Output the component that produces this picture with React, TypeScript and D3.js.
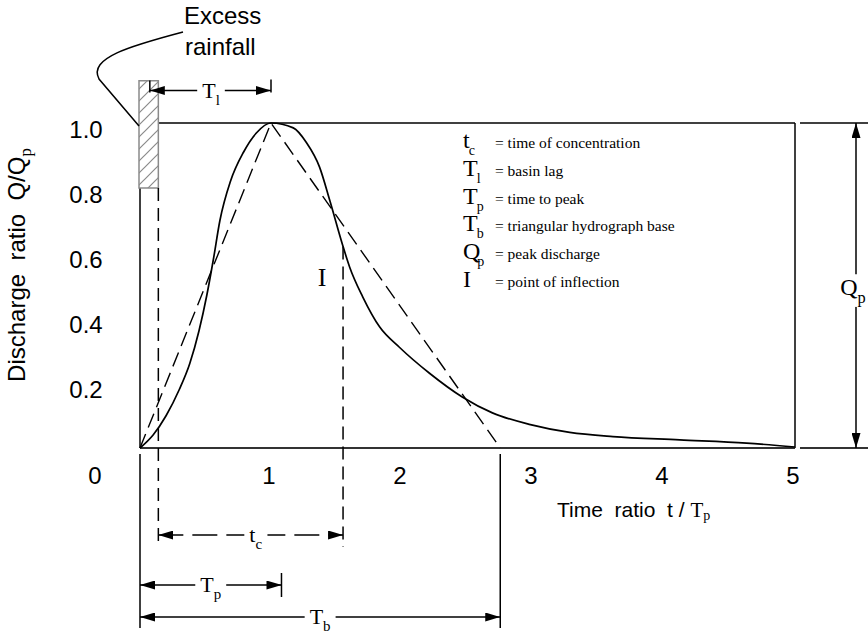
import React, { useEffect, useRef } from 'react';
import * as d3 from 'd3';

// Dimensionless unit hydrograph (t/Tp, Q/Qp)
const timeRatio = [0, 0.1, 0.2, 0.3, 0.38, 0.45, 0.51, 0.56, 0.61, 0.69, 0.79, 0.89, 1.0, 1.17, 1.27, 1.37, 1.45, 1.55, 1.6, 1.7, 1.83, 1.98, 2.21, 2.46, 2.69, 2.98, 3.28, 3.61, 4.12, 4.63, 5.0];
const dischargeRatio = [0, 0.04, 0.1, 0.18, 0.26, 0.36, 0.47, 0.58, 0.7, 0.82, 0.91, 0.97, 1.0, 0.985, 0.94, 0.865, 0.76, 0.62, 0.557, 0.465, 0.372, 0.31, 0.23, 0.157, 0.108, 0.072, 0.048, 0.035, 0.025, 0.015, 0.003];

// triangular approximation
const triangleTime = [0, 1.0, 2.75];
const triangleDischarge = [0, 1, 0];

// key times (t/Tp)
const rainEnd = 0.14;
const rainCentroid = 0.075;
const rainTop = 1.13;
const rainBottom = 0.8;
const peakTime = 1.0;
const tpMark = 1.08;
const tcEnd = 1.55;
const baseTime = 2.75;
const inflectionQ = 0.62;

const xTicks = [0, 1, 2, 3, 4, 5];
const yTicks = [0.2, 0.4, 0.6, 0.8, 1.0];
const yTickLabels = ['0.2', '0.4', '0.6', '0.8', '1.0'];

const legendSymbols = ['t', 'T', 'T', 'T', 'Q', 'I'];
const legendSubs = ['c', 'l', 'p', 'b', 'p', ''];
const legendText = [
  '= time of concentration',
  '= basin lag',
  '= time to peak',
  '= triangular hydrograph base',
  '= peak discharge',
  '= point of inflection',
];

const W = 868;
const H = 634;
const SANS = '"Liberation Sans", Arial, Helvetica, sans-serif';
const SERIF = '"Liberation Serif", "Times New Roman", serif';

export default function App() {
  const svgRef = useRef<SVGSVGElement>(null);

  useEffect(() => {
    document.body.style.margin = '0';
    if (!svgRef.current) return;
    const svg = d3.select(svgRef.current);
    svg.selectAll('*').remove();

    const x = d3.scaleLinear().domain([0, 5]).range([140, 795]);
    const y = d3.scaleLinear().domain([0, 1]).range([448, 123]);

    // rows of the dimension lines under the axis
    const tcRow = 535;
    const tpRow = 585;
    const tbRow = 617;
    const dimBottom = 628;

    const defs = svg.append('defs');
    defs.append('marker')
      .attr('id', 'arrow')
      .attr('viewBox', '0 0 15 9')
      .attr('markerWidth', 15)
      .attr('markerHeight', 9)
      .attr('refX', 15)
      .attr('refY', 4.5)
      .attr('orient', 'auto-start-reverse')
      .attr('markerUnits', 'userSpaceOnUse')
      .append('path')
      .attr('d', 'M0,0L15,4.5L0,9Z')
      .attr('fill', '#000');

    const hatch = defs.append('pattern')
      .attr('id', 'hatch')
      .attr('patternUnits', 'userSpaceOnUse')
      .attr('width', 12)
      .attr('height', 12);
    hatch.append('path')
      .attr('d', 'M-3,3L3,-3M0,12L12,0M9,15L15,9')
      .attr('stroke', '#8a8a8a')
      .attr('stroke-width', 1.2);

    const line = (x1: number, y1: number, x2: number, y2: number, w = 1.5, dash?: string) => {
      const l = svg.append('line')
        .attr('x1', x1).attr('y1', y1).attr('x2', x2).attr('y2', y2)
        .attr('stroke', '#000')
        .attr('stroke-width', w);
      if (dash) l.attr('stroke-dasharray', dash);
      return l;
    };

    // symbol with subscript, knocking out the line behind it
    const symbol = (cx: number, baseY: number, main: string, sub: string, size: number) => {
      const g = svg.append('g');
      const t = g.append('text')
        .attr('x', cx)
        .attr('y', baseY)
        .attr('text-anchor', 'middle')
        .attr('font-family', SERIF)
        .attr('font-size', size);
      t.append('tspan').text(main);
      if (sub) {
        t.append('tspan')
          .attr('font-size', size * 0.68)
          .attr('dy', size * 0.32)
          .text(sub);
      }
      const b = (t.node() as SVGTextElement).getBBox();
      g.insert('rect', 'text')
        .attr('x', b.x - 5)
        .attr('y', b.y)
        .attr('width', b.width + 10)
        .attr('height', b.height)
        .attr('fill', '#fff');
      return g;
    };

    // plot frame
    line(x(rainEnd), y(1), x(5), y(1));
    line(x(5), y(1), x(5), y(0));
    line(x(0), y(rainBottom), x(0), y(0));
    line(x(0), y(0), x(5), y(0), 2.2).attr('stroke', '#333');

    // excess rainfall block
    svg.append('rect')
      .attr('x', x(0) - 1)
      .attr('y', y(rainTop))
      .attr('width', x(rainEnd) - x(0) + 1)
      .attr('height', y(rainBottom) - y(rainTop))
      .attr('fill', '#fff');
    svg.append('rect')
      .attr('x', x(0) - 1)
      .attr('y', y(rainTop))
      .attr('width', x(rainEnd) - x(0) + 1)
      .attr('height', y(rainBottom) - y(rainTop))
      .attr('fill', 'url(#hatch)')
      .attr('stroke', '#8a8a8a')
      .attr('stroke-width', 1.5);

    // leader from the label to the block
    const lx = x(0) - 1;
    const ly = y(1) + 3;
    svg.append('path')
      .attr('d', `M183,32C130,46 88,58 99,79L${lx},${ly}`)
      .attr('fill', 'none')
      .attr('stroke', '#000')
      .attr('stroke-width', 1.5);

    const excess = svg.append('text')
      .attr('font-family', SANS)
      .attr('font-size', 24)
      .attr('fill', '#000');
    excess.append('tspan').attr('x', 184).attr('y', 24).text('Excess');
    excess.append('tspan').attr('x', 185).attr('y', 55).text('rainfall');

    // basin lag dimension
    const tlRow = y(1.1);
    line(x(rainCentroid), tlRow - 10, x(rainCentroid), tlRow + 2, 1.5);
    line(x(peakTime), tlRow - 11, x(peakTime), tlRow + 2, 1.5);
    line(x(rainCentroid), tlRow, x(peakTime), tlRow, 1.5)
      .attr('marker-start', 'url(#arrow)')
      .attr('marker-end', 'url(#arrow)');
    symbol(211, tlRow + 7, 'T', 'l', 22);

    // triangular hydrograph
    const tri = d3.line<number>()
      .x((d, i) => x(triangleTime[i]))
      .y(d => y(d));
    svg.append('path')
      .attr('d', tri(triangleDischarge))
      .attr('fill', 'none')
      .attr('stroke', '#000')
      .attr('stroke-width', 1.4)
      .attr('stroke-dasharray', '15,7');

    // curvilinear hydrograph
    const curve = d3.line<number>()
      .x((d, i) => x(timeRatio[i]))
      .y(d => y(d))
      .curve(d3.curveMonotoneX);
    svg.append('path')
      .attr('d', curve(dischargeRatio))
      .attr('fill', 'none')
      .attr('stroke', '#000')
      .attr('stroke-width', 1.7);

    // dashed verticals for rainfall end and inflection point
    line(x(rainEnd), y(rainBottom), x(rainEnd), tcRow + 12, 1.5, '13,7');
    line(x(tcEnd), y(inflectionQ), x(tcEnd), tcRow + 12, 1.5, '13,7');

    svg.append('text')
      .attr('x', x(tcEnd) - 21)
      .attr('y', y(0.5))
      .attr('text-anchor', 'middle')
      .attr('font-family', SERIF)
      .attr('font-size', 26)
      .text('I');

    // solid extension lines below the axis
    line(x(0), y(0) + 6, x(0), dimBottom, 1.5);
    line(x(baseTime), y(0) + 6, x(baseTime), dimBottom, 1.5);
    line(x(tpMark), tpRow - 12, x(tpMark), tpRow + 12, 1.5);

    // dimension arrows
    line(x(rainEnd), tcRow, x(tcEnd), tcRow, 1.5, '25,9')
      .attr('marker-start', 'url(#arrow)')
      .attr('marker-end', 'url(#arrow)');
    symbol((x(rainEnd) + x(tcEnd)) / 2 + 5, tcRow + 7, 't', 'c', 22);

    line(x(0), tpRow, x(tpMark), tpRow, 1.5)
      .attr('marker-start', 'url(#arrow)')
      .attr('marker-end', 'url(#arrow)');
    symbol((x(0) + x(tpMark)) / 2, tpRow + 7, 'T', 'p', 22);

    line(x(0), tbRow, x(baseTime), tbRow, 1.5)
      .attr('marker-start', 'url(#arrow)')
      .attr('marker-end', 'url(#arrow)');
    symbol((x(0) + x(baseTime)) / 2, tbRow + 7, 'T', 'b', 22);

    // peak discharge dimension on the right
    line(800, y(1), W, y(1), 1.5);
    line(800, y(0), W, y(0), 2.2).attr('stroke', '#333');
    line(856, y(0), 856, y(1), 1.5)
      .attr('marker-start', 'url(#arrow)')
      .attr('marker-end', 'url(#arrow)');
    symbol(853, y(0.47), 'Q', 'p', 24);

    // tick labels
    svg.append('g')
      .selectAll('text')
      .data(yTicks)
      .join('text')
      .attr('x', 86)
      .attr('y', d => y(d) + 6)
      .attr('text-anchor', 'middle')
      .attr('dominant-baseline', 'central')
      .attr('font-family', SANS)
      .attr('font-size', 24)
      .text((d, i) => yTickLabels[i]);

    svg.append('g')
      .selectAll('text')
      .data(xTicks)
      .join('text')
      .attr('x', d => (d === 0 ? x(d) - 45 : x(d) - 2))
      .attr('y', y(0) + 27)
      .attr('text-anchor', 'middle')
      .attr('dominant-baseline', 'central')
      .attr('font-family', SANS)
      .attr('font-size', 24)
      .text(d => String(d));

    // axis titles
    const xt = svg.append('text')
      .attr('x', 557)
      .attr('y', 517)
      .attr('font-family', SANS)
      .attr('font-size', 21)
      .style('white-space', 'pre');
    xt.append('tspan').text('Time  ratio  t / ');
    xt.append('tspan').attr('font-family', SERIF).text('T');
    xt.append('tspan').attr('font-family', SERIF).attr('font-size', 14).attr('dy', 3).text('p');

    const yt = svg.append('text')
      .attr('transform', 'translate(25,265) rotate(-90)')
      .attr('text-anchor', 'middle')
      .attr('font-family', SANS)
      .attr('font-size', 24)
      .style('white-space', 'pre');
    yt.append('tspan').text('Discharge  ratio  Q/Q');
    yt.append('tspan').attr('font-family', SERIF).attr('font-size', 17).attr('dy', 6).text('p');

    // legend
    legendSymbols.forEach((s, i) => {
      const base = 148 + i * 27.8;
      const t = svg.append('text')
        .attr('x', 463)
        .attr('y', base)
        .attr('font-family', SERIF)
        .attr('font-size', 24);
      t.append('tspan').text(s);
      if (legendSubs[i]) {
        t.append('tspan')
          .attr('font-size', 14)
          .attr('dx', s === 'Q' ? -3 : -1)
          .attr('dy', 7)
          .text(legendSubs[i]);
      }
      svg.append('text')
        .attr('x', 495)
        .attr('y', base)
        .attr('font-family', SERIF)
        .attr('font-size', 15.5)
        .text(legendText[i]);
    });
  }, []);

  return (
    <svg ref={svgRef} width={W} height={H} style={{ display: 'block', background: '#fff' }} />
  );
}
